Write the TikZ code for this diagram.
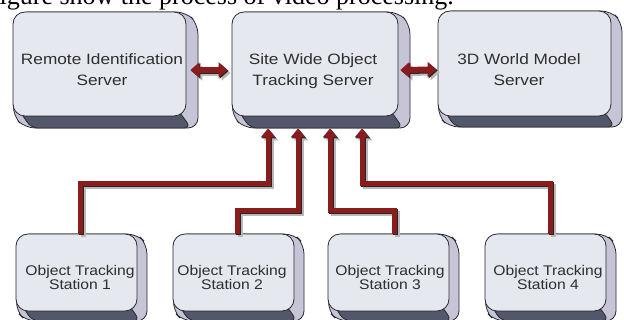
\documentclass[tikz,border=0pt]{standalone}
\usepackage{fontspec}
\setmainfont{Liberation Sans}
\newfontfamily\serifttl{Liberation Serif}
\usetikzlibrary{arrows.meta,calc}
\definecolor{facecol}{HTML}{E5E8EE}
\definecolor{sidecol}{HTML}{C6C5D8}
\definecolor{botcol}{HTML}{52576A}
\definecolor{edgecol}{HTML}{2A2A30}
\definecolor{myred}{HTML}{8A1C1E}
\definecolor{txtcol}{HTML}{2E2E2E}
\tikzset{
  face/.style={draw=edgecol, line width=0.8pt, fill=facecol, rounded corners=12pt, inner sep=0pt},
  sideface/.style={draw=edgecol, line width=0.8pt, fill=sidecol},
  bottomface/.style={draw=edgecol, line width=0.8pt, fill=botcol},
  toptext/.style={text=txtcol, inner sep=0pt, font=\fontsize{15}{21}\selectfont},
  bottext/.style={text=txtcol, inner sep=0pt, font=\fontsize{14}{13}\selectfont},
  uptip/.style={-{Triangle[width=14pt,length=9pt]}},
  conn/.style={draw=myred, line width=5pt, uptip},
  dtip/.style={{Triangle[width=15pt,length=9pt]}-{Triangle[width=15pt,length=9pt]}},
  dconn/.style={draw=myred, line width=6pt, dtip},
  shadowA/.style={draw=black!28, transform canvas={shift={(3pt,-3pt)}}},
  shadowB/.style={draw=black!85, transform canvas={shift={(1pt,-1pt)}}}
}
\newcommand{\tdbox}[6]{%
  \filldraw[sideface, rounded corners=10pt] (#2+4,#3) -- (#4,#3) -- (#4+#6,#3+#6) -- (#4+#6,#5+#6) -- (#2+#6,#5+#6) -- (#2,#5) -- cycle;
  \filldraw[bottomface, rounded corners=7pt] (#2+6,#5-6) -- (#4-8,#5-6) -- (#4+#6-7,#5+#6) -- (#2+#6+6,#5+#6) -- cycle;
  \node[face, minimum width={(#4-#2)*1pt}, minimum height={(#5-#3)*1pt}] (#1) at ({(#2+#4)/2},{(#3+#5)/2}) {};
}
% connector drawn with two shadow layers and the red line on top
\newcommand{\shconn}[2]{%
  \begin{scope}[transform canvas={shift={(3pt,-3pt)}}]\draw[#1, draw=black!28] #2;\end{scope}
  \begin{scope}[transform canvas={shift={(1pt,-1pt)}}]\draw[#1, draw=black!85] #2;\end{scope}
  \draw[#1] #2;
}
\newcommand{\toplbl}[2]{\scalebox{1.15}[1]{\begin{tabular}{@{}c@{}}#1\\#2\end{tabular}}}
\newcommand{\botlbl}[2]{\scalebox{1.12}[1]{\begin{tabular}{@{}c@{}}#1\\#2\end{tabular}}}
\begin{document}
\begin{tikzpicture}[x=1pt, y=-1pt]
\useasboundingbox (0,0) rectangle (624,320);
\clip (0,0) rectangle (624,320);
\fill[white] (0,0) rectangle (624,320);
% title (clipped at top, as in the reference)
\node[anchor=base west, inner sep=0pt, font=\serifttl\fontsize{26}{30}\selectfont] (title) at (-15,5) {Figure show the process of video processing.};
% top servers
\tdbox{b1}{13}{12}{186}{116}{12}
\tdbox{c}{232}{12}{398}{116}{12}
\tdbox{b3}{438}{11}{611}{116}{11}
% stations
\tdbox{s1}{16}{234}{137}{311}{10}
\tdbox{s2}{173}{234}{294}{311}{10}
\tdbox{s3}{328}{234}{449}{311}{10}
\tdbox{s4}{485}{234}{606}{311}{10}
% labels
\node[toptext] (b1t) at (102,71) {\toplbl{Remote Identification}{Server}};
\node[toptext] (ct) at (313,71) {\toplbl{Site Wide Object}{Tracking Server}};
\node[toptext] (b3t) at (519,71) {\toplbl{3D World Model}{Server}};
\node[bottext] (s1t) at (80,279) {\botlbl{Object Tracking}{Station 1}};
\node[bottext] (s2t) at (232,279) {\botlbl{Object Tracking}{Station 2}};
\node[bottext] (s3t) at (390,279) {\botlbl{Object Tracking}{Station 3}};
\node[bottext] (s4t) at (548,279) {\botlbl{Object Tracking}{Station 4}};
% double arrows
\shconn{dconn}{($(b1.east)+(4,6)$) -- ($(c.west)+(-4,6)$)}
\shconn{dconn}{($(c.east)+(2,6)$) -- ($(b3.west)+(-1,6)$)}
% station connectors
\shconn{conn}{($(s1.north)+(4,0)$) |- ($(c.south)+(-47,67)$) -- ($(c.south)+(-47,12)$)}
\shconn{conn}{($(s2.north)+(4,0)$) |- ($(c.south)+(-17,94)$) -- ($(c.south)+(-17,12)$)}
\shconn{conn}{($(s3.north)+(6,0)$) |- ($(c.south)+(15,94)$) -- ($(c.south)+(15,12)$)}
\shconn{conn}{($(s4.north)+(5,0)$) |- ($(c.south)+(47,67)$) -- ($(c.south)+(47,12)$)}
\end{tikzpicture}
\end{document}
